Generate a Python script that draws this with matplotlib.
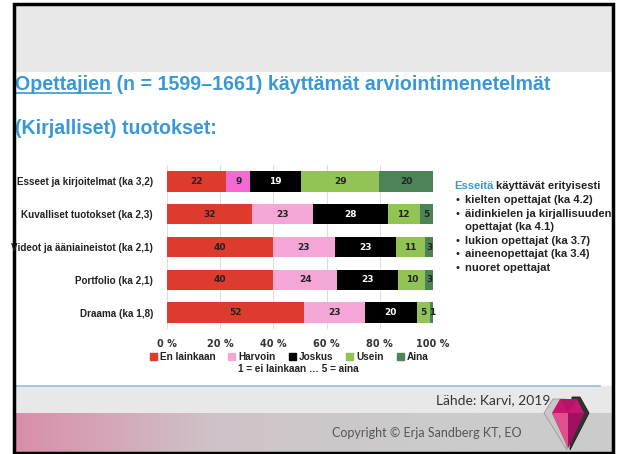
import matplotlib
matplotlib.use("Agg")
import matplotlib.pyplot as plt
import numpy as np
from matplotlib.patches import Rectangle, Polygon
from matplotlib.colors import LinearSegmentedColormap

categories = ["Esseet ja kirjoitelmat (ka 3,2)", "Kuvalliset tuotokset (ka 2,3)",
              "Videot ja ääniaineistot (ka 2,1)", "Portfolio (ka 2,1)", "Draama (ka 1,8)"]
series = ["En lainkaan", "Harvoin", "Joskus", "Usein", "Aina"]
en_lainkaan = [22, 32, 40, 40, 52]
harvoin = [9, 23, 23, 24, 23]
joskus = [19, 28, 23, 23, 20]
usein = [29, 12, 11, 10, 5]
aina = [20, 5, 3, 3, 1]
ticks = [0, 20, 40, 60, 80, 100]
tick_labels = ["0 %", "20 %", "40 %", "60 %", "80 %", "100 %"]

colors = ["#DC3B2E", "#F4A6D7", "#000000", "#92C355", "#4C8458"]
label_colors = ["#222222", "#222222", "#FFFFFF", "#222222", "#222222"]

W, H = 618, 454
fig = plt.figure(figsize=(W / 100, H / 100), dpi=100)
fig.patch.set_facecolor("white")
renderer = fig.canvas.get_renderer()

def fx(x):
    return x / W

def fy(y):
    return 1 - y / H

def width_px(t):
    return t.get_window_extent(renderer=renderer).width

bg = fig.add_axes([0, 0, 1, 1], zorder=0)
bg.set_xlim(0, W)
bg.set_ylim(H, 0)
bg.axis("off")

# top gray band
bg.add_patch(Rectangle((14, 4), 598, 68, facecolor="#E8E8E8", edgecolor="none"))
# bottom light gray band
bg.add_patch(Rectangle((14, 386), 598, 27, facecolor="#E8E8E8", edgecolor="none"))
bg.plot([16, 600], [386, 386], color="#8EC3DD", lw=1.2)
# gradient band
cmap = LinearSegmentedColormap.from_list("g", ["#D98DAA", "#CFC3C8", "#CBCBCB", "#CBCBCB"])
grad = np.linspace(0, 1, 256).reshape(1, -1)
bg.imshow(grad, cmap=cmap, extent=(14, 612, 452, 413), aspect="auto", zorder=1)
bg.set_xlim(0, W)
bg.set_ylim(H, 0)

# title
title_col = "#3A98D6"
tfont = "Liberation Sans"
t1 = bg.text(15, 84, "Opettajien (n = 1599–1661) käyttämät arviointimenetelmät", fontsize=14,
             fontweight="bold", color=title_col, family=tfont, va="center", ha="left")
w = width_px(t1)
fs = 14 * (537 / w)
t1.set_fontsize(fs)
t2 = bg.text(15, 128, "(Kirjalliset) tuotokset:", fontsize=fs, fontweight="bold", color=title_col,
             family=tfont, va="center", ha="left")
tmp = bg.text(15, 84, "Opettajien", fontsize=fs, fontweight="bold", family=tfont, alpha=0)
uw = width_px(tmp)
bg.plot([15, 15 + uw], [93, 93], color=title_col, lw=1.2)

# chart (100 % stacked)
ax = fig.add_axes([fx(167), fy(329), fx(433) - fx(167), fy(165) - fy(329)], zorder=2)
vals = np.array([en_lainkaan, harvoin, joskus, usein, aina], dtype=float)
shares = vals / vals.sum(axis=0) * 100
y = np.arange(len(categories))
left = np.zeros(len(categories))
for i, name in enumerate(series):
    cols = [colors[i]] * len(categories)
    if i == 1:
        cols[0] = "#F26AD2"
    ax.barh(y, shares[i], left=left, height=0.62, color=cols, zorder=3)
    for j, v in enumerate(vals[i]):
        xc = left[j] + shares[i][j] / 2
        ax.text(xc, y[j], f"{int(v)}", ha="center", va="center", fontsize=6.5,
                fontweight="bold", color=label_colors[i], zorder=4,
                family="DejaVu Sans")
    left += shares[i]

ax.set_xlim(0, 100)
ax.set_ylim(len(categories) - 0.5, -0.5)
ax.set_xticks(ticks)
ax.set_xticklabels(tick_labels, fontsize=7, fontweight="bold", color="#333333")
ax.set_yticks(y)
tmp2 = bg.text(0, 0, categories[0], fontsize=8, fontweight="bold", family="Liberation Sans", alpha=0)
cfs = 8 * 136 / width_px(tmp2)
ax.set_yticklabels(categories, fontsize=cfs, fontweight="bold", color="#222222",
                   family="Liberation Sans")
ax.tick_params(axis="both", length=0)
ax.tick_params(axis="x", pad=7)
ax.tick_params(axis="y", pad=10)
for s in ax.spines.values():
    s.set_visible(False)
ax.grid(axis="x", color="#DDDDDD", lw=0.8, zorder=0)
ax.set_facecolor("none")

handles = [Rectangle((0, 0), 1, 1, color=c) for c in colors]
leg = fig.legend(handles, series, loc="center", bbox_to_anchor=(fx(289), fy(357)), ncol=5,
                 frameon=False, handlelength=0.7, handleheight=0.7, handletextpad=0.3,
                 columnspacing=1.3, prop={"weight": "bold", "size": 7.2, "family": "Liberation Sans"})
for t in leg.get_texts():
    t.set_color("#222222")
bg.text(298, 369, "1 = ei lainkaan … 5 = aina", fontsize=7.2, fontweight="bold",
        color="#222222", ha="center", va="center", family="Liberation Sans")

# right side text
rx = 454
rfs = 8.1
e = bg.text(rx, 186, "Esseitä", fontsize=rfs, fontweight="bold", color="#3A98D6",
            family="Liberation Sans", va="center")
ew = width_px(e)
bg.text(rx + ew + 3, 186, "käyttävät erityisesti", fontsize=rfs, fontweight="bold",
        color="#222222", family="Liberation Sans", va="center")
lines = [("•", "kielten opettajat (ka 4.2)"), ("•", "äidinkielen ja kirjallisuuden"),
         ("", "opettajat (ka 4.1)"), ("•", "lukion opettajat (ka 3.7)"),
         ("•", "aineenopettajat (ka 3.4)"), ("•", "nuoret opettajat")]
for k, (b, txt) in enumerate(lines):
    yy = 200 + k * 13.6
    if b:
        bg.text(rx + 1, yy, b, fontsize=rfs, color="#222222", va="center",
                family="Liberation Sans")
    bg.text(rx + 11, yy, txt, fontsize=rfs, fontweight="bold", color="#222222",
            va="center", family="Liberation Sans")

# footer texts
bg.text(550, 400, "Lähde: Karvi, 2019", fontsize=10, color="#333333", ha="right",
        va="center", family="Lato")
bg.text(427, 433, "Copyright © Erja Sandberg KT, EO", fontsize=9, color="#555555",
        ha="center", va="center", family="Lato")

# diamond logo
bg.add_patch(Polygon([(544, 413), (553, 399), (566, 399), (567, 450)], closed=True,
                     facecolor="#C8C8C8", edgecolor="#9A9A9A", lw=0.6, zorder=3))
bg.add_patch(Polygon([(572, 397), (580, 397), (589, 413), (570, 450)], closed=True,
                     facecolor="#333333", edgecolor="#1A1A1A", lw=0.6, zorder=3))
bg.add_patch(Polygon([(552, 413), (560, 399), (577, 399), (584, 413), (568, 448)],
                     closed=True, facecolor="#C8156F", edgecolor="none", zorder=4))
bg.add_patch(Polygon([(552, 413), (568, 413), (568, 448)], closed=True,
                     facecolor="#E0508D", edgecolor="none", zorder=5))
bg.add_patch(Polygon([(568, 413), (584, 413), (568, 448)], closed=True,
                     facecolor="#A3105F", edgecolor="none", zorder=5))
bg.add_patch(Polygon([(560, 399), (577, 399), (568, 413)], closed=True,
                     facecolor="#B8126A", edgecolor="none", zorder=5))

# border
bg.add_patch(Rectangle((13.5, 3.5), 599, 449, facecolor="none", edgecolor="black",
                       lw=2.5, zorder=10))

fig.savefig("out.png", dpi=100, facecolor="white")
